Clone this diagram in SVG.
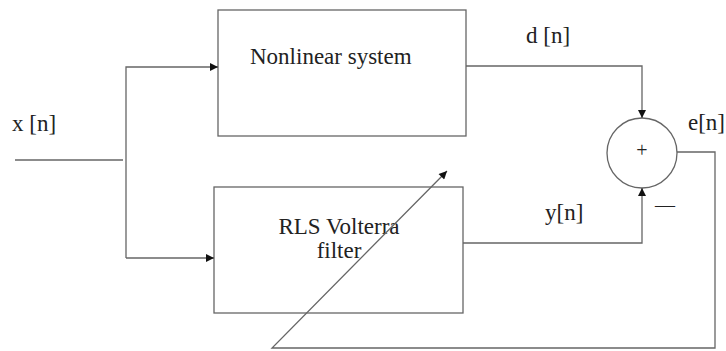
<svg xmlns="http://www.w3.org/2000/svg" width="726" height="351" viewBox="0 0 726 351">
<style>
.box{fill:none;stroke:#666;stroke-width:1.3}
.ln{fill:none;stroke:#666;stroke-width:1.3}
.t{font-family:"Liberation Serif","Times New Roman",serif;font-size:23px;fill:#222}
.s{font-family:"Liberation Serif","Times New Roman",serif;font-size:20px;fill:#222}
</style>
<defs>
<marker id="ah" viewBox="0 0 10 10" refX="10" refY="5" markerWidth="10" markerHeight="8" markerUnits="userSpaceOnUse" orient="auto">
<path d="M0,0 L10,5 L0,10 Z" fill="#111"/>
</marker>
</defs>
<rect width="726" height="351" fill="#fff"/>
<g id="nonlinear">
<rect class="box" x="218" y="10" width="248" height="126"/>
<text class="t" x="250" y="64">Nonlinear system</text>
</g>
<g id="rls">
<rect class="box" x="214" y="187" width="249" height="126"/>
<text class="t" x="339" y="234" text-anchor="middle">RLS Volterra</text>
<text class="t" x="339" y="258" text-anchor="middle">filter</text>
</g>
<g id="sum">
<circle class="box" cx="642" cy="153" r="35"/>
<text class="s" x="642" y="157" text-anchor="middle">+</text>
<text class="s" x="655" y="212">—</text>
</g>
<g id="labels">
<text class="t" x="12" y="131">x [n]</text>
<text class="t" x="526" y="43">d [n]</text>
<text class="t" x="688" y="130">e[n]</text>
<text class="t" x="545" y="220">y[n]</text>
</g>
<g id="connectors">
<path class="ln" d="M15,160 H123" stroke="#444"/>
<path class="ln" d="M126,258 V67 H218" marker-end="url(#ah)"/>
<path class="ln" d="M126,258 H214" marker-end="url(#ah)"/>
<path class="ln" d="M466,66 H642 V118" marker-end="url(#ah)"/>
<path class="ln" d="M463,243 H642 V188" marker-end="url(#ah)"/>
<path class="ln" d="M677,152 H715 V348 H272 L447,171" marker-end="url(#ah)"/>
</g>
</svg>
